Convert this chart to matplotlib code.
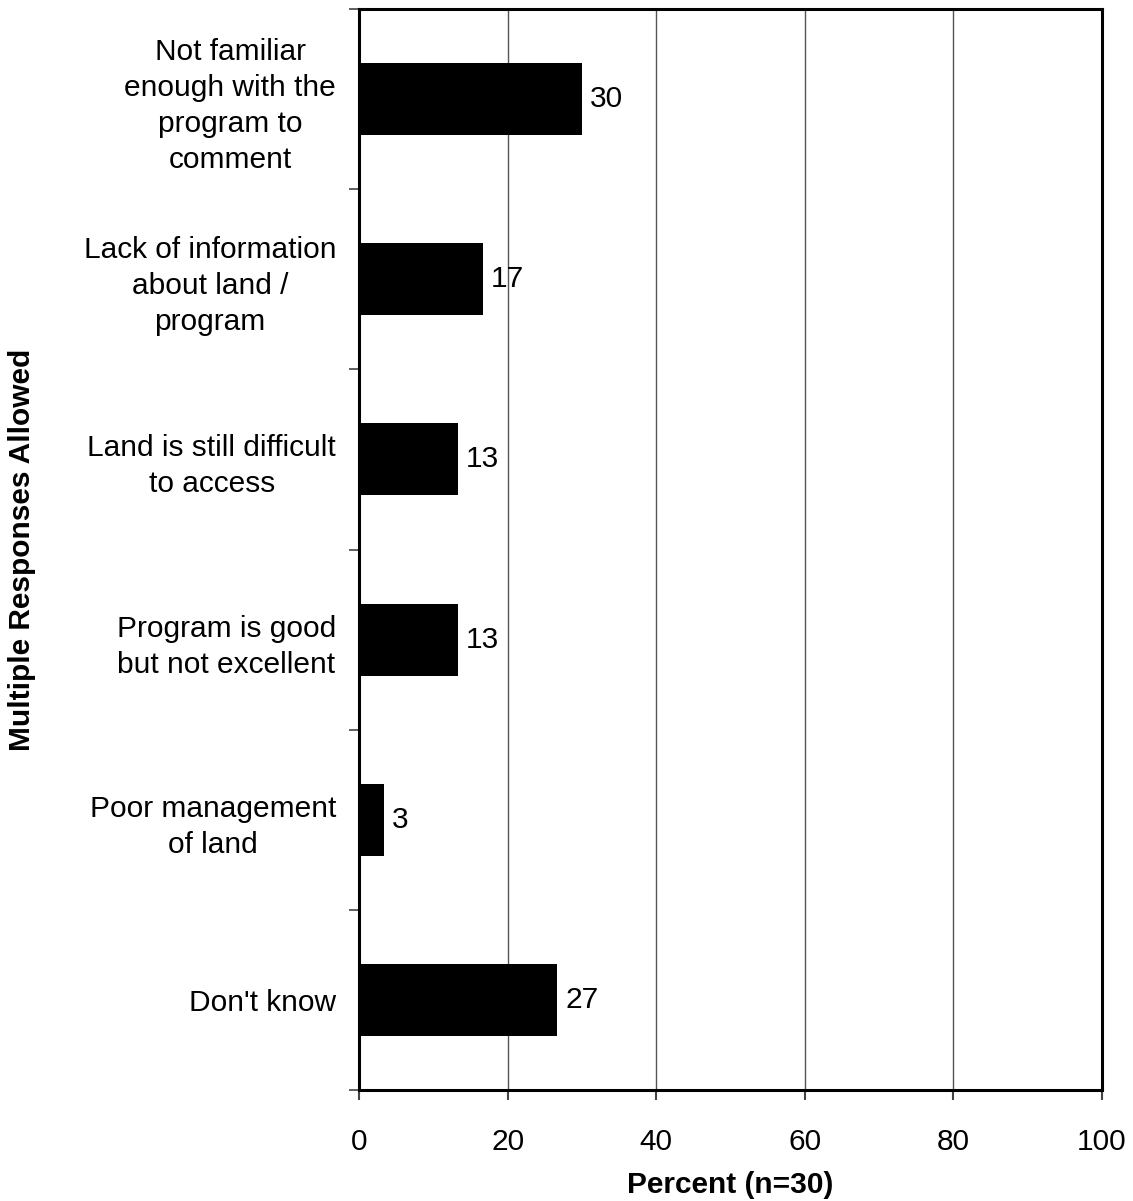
import matplotlib
matplotlib.use("Agg")
import matplotlib.pyplot as plt
import numpy as np

categories = [
    "Not familiar\nenough with the\nprogram to\ncomment",
    "Lack of information\nabout land /\nprogram",
    "Land is still difficult\nto access",
    "Program is good\nbut not excellent",
    "Poor management\nof land",
    "Don't know",
]
values = [30.0, 16.7, 13.3, 13.3, 3.3, 26.7]
value_labels = ["30", "17", "13", "13", "3", "27"]
x_ticks = [0, 20, 40, 60, 80, 100]

plt.rcParams["font.family"] = ["Liberation Sans", "DejaVu Sans"]
FS = 21.5

fig = plt.figure(figsize=(11.33, 12.01), dpi=100)
ax = fig.add_axes([0.3169, 0.0924, 0.6557, 0.9001])

n = len(categories)
ypos = np.arange(n)[::-1] + 0.5
ax.barh(ypos, values, height=0.4, color="black", zorder=3)

for y, v, lab in zip(ypos, values, value_labels):
    ax.text(v + 1.05, y, lab, va="center", ha="left", fontsize=FS, zorder=4)

ax.set_xlim(0, 100)
ax.set_ylim(0, n)
ax.set_xticks(x_ticks)
ax.set_xticklabels([str(t) for t in x_ticks], fontsize=FS)
ax.tick_params(axis="x", direction="out", length=7, width=1.5, pad=20, color="#444444")

ax.set_yticks(ypos)
ax.set_yticklabels(categories, fontsize=FS, linespacing=1.36, ha="right")
for lbl in ax.get_yticklabels():
    lbl.set_multialignment("center")
ax.set_yticks(np.arange(n + 1), minor=True)
ax.tick_params(axis="y", which="major", length=0, pad=16.5)
ax.tick_params(axis="y", which="minor", direction="out", length=7, width=1.2, color="#444444")

ax.grid(axis="x", color="#555555", linewidth=1.0, zorder=0)
for s in ax.spines.values():
    s.set_linewidth(2.2)
    s.set_color("black")

ax.set_xlabel("Percent (n=30)", fontsize=FS, fontweight="bold")
ax.xaxis.label.set_va("center")
ax.xaxis.set_label_coords(0.5, -0.088)
ax.set_ylabel("Multiple Responses Allowed", fontsize=FS, fontweight="bold")
ax.yaxis.label.set_va("center")
ax.yaxis.set_label_coords(-0.4536, 0.5)

fig.savefig("out.png", dpi=100)
